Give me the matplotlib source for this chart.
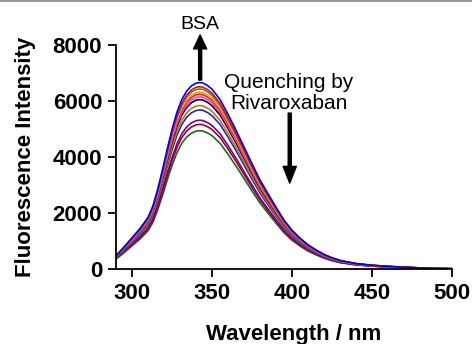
import numpy as np
import matplotlib
matplotlib.use("Agg")
import matplotlib.pyplot as plt
from matplotlib.lines import Line2D

plt.rcParams["font.family"] = ["Liberation Sans", "DejaVu Sans"]

# emission wavelengths (nm) and the read-off spectrum of free BSA (top curve)
wavelength = [290, 295, 300, 305, 310, 313, 316, 319, 322, 325, 328, 331, 334,
              337, 340, 342, 344, 347, 350, 355, 360, 365, 370, 375, 380, 385,
              390, 395, 400, 405, 410, 415, 420, 425, 430, 440, 450, 460, 470,
              480, 490, 500]
bsa_spectrum = [480, 790, 1120, 1450, 1850, 2250, 2850, 3550, 4300, 5000, 5600,
                6050, 6350, 6540, 6640, 6660, 6650, 6560, 6420, 6050, 5520,
                4950, 4350, 3750, 3170, 2680, 2200, 1740, 1380, 1100, 860, 680,
                520, 400, 305, 195, 135, 95, 65, 40, 20, 10]

# peak heights of the titration series (BSA + increasing Rivaroxaban)
peak_intensity = [6660, 6510, 6430, 6320, 6245, 6150, 6050, 5840, 5680, 5315,
                  5165, 4940]
curve_colors = ["#0000ff", "#ff0000", "#2e9e2e", "#ff9a1a", "#e8202a",
                "#ff30ff", "#000000", "#b07830", "#2030a0", "#800080",
                "#a00030", "#107010"]

fig = plt.figure(figsize=(4.72, 3.44), dpi=100)
ax = fig.add_axes([0.246, 0.218, 0.712, 0.651])

wl = np.array(wavelength)
base = np.array(bsa_spectrum, dtype=float)
for peak, col in zip(peak_intensity[::-1], curve_colors[::-1]):
    ax.plot(wl, base * peak / base.max(), color=col, lw=1.2)

ax.set_xlim(290, 500)
ax.set_ylim(0, 8000)
ax.set_xticks([300, 350, 400, 450, 500])
ax.set_yticks([0, 2000, 4000, 6000, 8000])
for s in ["top", "right"]:
    ax.spines[s].set_visible(False)
for s in ["left", "bottom"]:
    ax.spines[s].set_linewidth(1.3)
ax.tick_params(direction="out", length=6, width=1.3, labelsize=16, pad=4)
for lab in ax.get_xticklabels() + ax.get_yticklabels():
    lab.set_fontweight("bold")

ax.set_xlabel("Wavelength / nm", fontsize=16, fontweight="bold")
ax.set_ylabel("Fluorescence Intensity", fontsize=16, fontweight="bold")
ax.xaxis.set_label_coords(0.527, -0.245)
ax.yaxis.set_label_coords(-0.238, 0.5)

# annotations
ax.annotate("", xy=(342.5, 8360), xytext=(342.5, 6750),
            arrowprops=dict(facecolor="black", edgecolor="black", width=2.2,
                            headwidth=9.5, headlength=10, shrink=0),
            annotation_clip=False)
ax.text(342.5, 8750, "BSA", fontsize=14, ha="center", va="center",
        clip_on=False)
ax.annotate("", xy=(398.5, 3070), xytext=(398.5, 5570),
            arrowprops=dict(facecolor="black", edgecolor="black", width=2.2,
                            headwidth=9.5, headlength=12, shrink=0))
ax.text(398, 6280, "Quenching by\nRivaroxaban", fontsize=15, ha="center",
        va="center", linespacing=1.1)

fig.add_artist(Line2D([0, 1], [0.998, 0.998], color="#999999", lw=1.5,
                      transform=fig.transFigure))

fig.savefig("out.png", dpi=100)
